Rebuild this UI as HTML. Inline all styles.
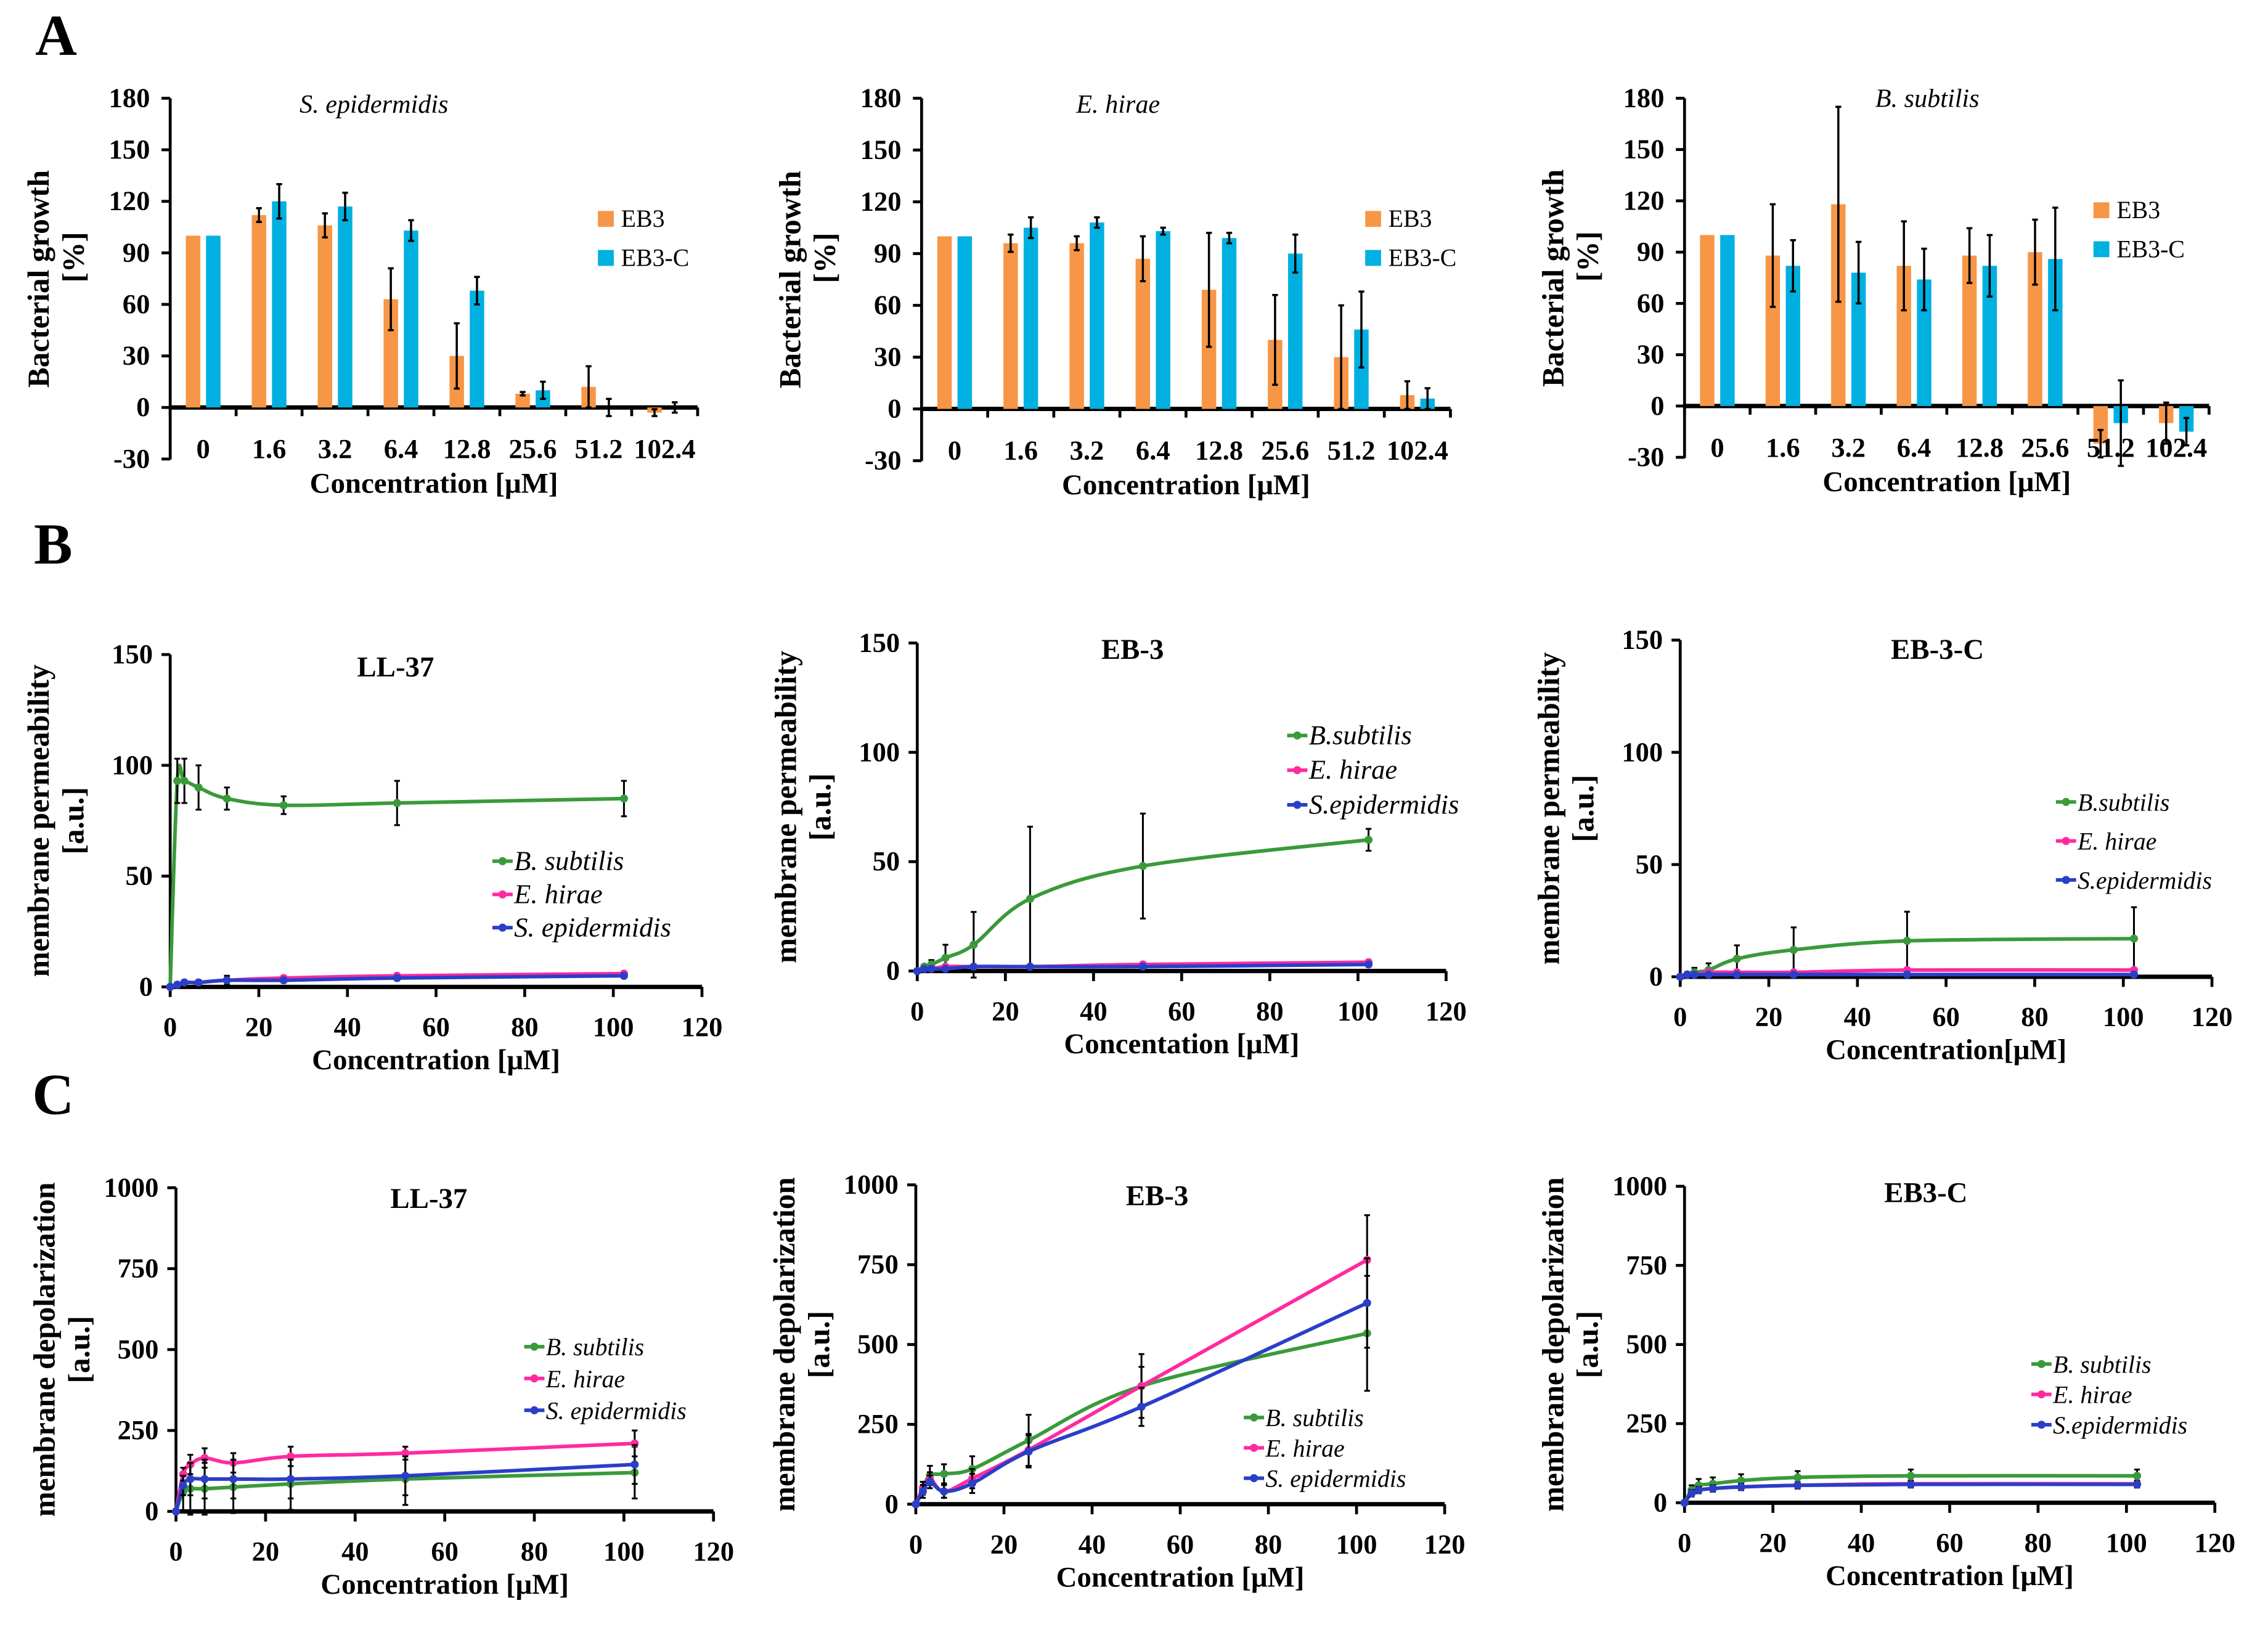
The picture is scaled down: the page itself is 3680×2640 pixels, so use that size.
<!DOCTYPE html>
<html><head><meta charset="utf-8"><style>
html,body{margin:0;padding:0;background:#fff;}
svg{display:block;}
text{font-family:"Liberation Serif",serif;}
</style></head><body>
<svg id="s" width="3680" height="2640" viewBox="0 0 1568 1126" xmlns="http://www.w3.org/2000/svg"></svg>
<script>
const S=document.getElementById('s');let h='';
function t(x,y,s,o={}){h+=`<text x="${x}" y="${y}" font-size="${o.fs||19}" font-weight="${o.fw||'bold'}" ${o.it?'font-style="italic"':''} text-anchor="${o.a||'middle'}" ${o.rot?`transform="rotate(-90 ${x} ${y})"`:''} fill="#000">${s}</text>`;}
function l(x1,y1,x2,y2,c='#000',w=2){h+=`<line x1="${x1}" y1="${y1}" x2="${x2}" y2="${y2}" stroke="${c}" stroke-width="${w}"/>`;}
const X=[0,1.6,3.2,6.4,12.8,25.6,51.2,102.4];
t(38,38,'A',{fs:40});t(36,390,'B',{fs:40});t(36,771,'C',{fs:40});
function bar(ax,top,bot,zero,xend,cats,d1,e1,d2,e2,title,tx,ty,lx,ly){
 const ppu=(zero-top)/180;
 l(ax,top,ax,bot);
 for(let v=-30;v<=180;v+=30){const y=zero-v*ppu;l(ax-6,y,ax,y);t(ax-14,y+6,v,{a:'end'});}
 l(ax,zero,xend,zero,'#000',3);
 const sp=(xend-ax)/8;
 for(let i=0;i<=8;i++)l(ax+i*sp,zero,ax+i*sp,zero+6);
 cats.forEach((c,i)=>{
  const cx=ax+sp*(i+0.5);
  [[d1,e1,'#f79646',-12],[d2,e2,'#00b0e0',2]].forEach(([d,e,col,off])=>{
   const v=d[i],y=zero-v*ppu;
   h+=`<rect x="${cx+off}" y="${Math.min(y,zero)}" width="10" height="${Math.abs(zero-y)}" fill="${col}"/>`;
   const bx=cx+off+5;
   if(e[i]>0){l(bx,y-e[i]*ppu,bx,y+e[i]*ppu,'#000',1.5);l(bx-2,y-e[i]*ppu,bx+2,y-e[i]*ppu,'#000',1.5);l(bx-2,y+e[i]*ppu,bx+2,y+e[i]*ppu,'#000',1.5);}
  });
  t(cx,zero+35,c);
 });
 t(ax-84,(top+bot)/2,'Bacterial growth',{rot:1,fs:21});
 t(ax-60,(top+bot)/2-15,'[%]',{rot:1,fs:21});
 t((ax+xend)/2,bot+23,'Concentration [μM]',{fs:20});
 t(tx,ty,title,{it:1,fs:18,fw:'normal'});
 h+=`<rect x="${lx}" y="${ly-10}" width="11" height="11" fill="#f79646"/><rect x="${lx}" y="${ly+17}" width="11" height="11" fill="#00b0e0"/>`;
 t(lx+16,ly+1,'EB3',{a:'start',fw:'normal',fs:17});t(lx+16,ly+28,'EB3-C',{a:'start',fw:'normal',fs:17});
}
const cats=['0','1.6','3.2','6.4','12.8','25.6','51.2','102.4'];
bar(117,68,318,282,482,cats,[100,112,106,63,30,8,12,-3],[0,4,7,18,19,1,12,2],[100,120,117,103,68,10,0,0],[0,10,8,6,8,5,5,3],'S. epidermidis',258,78,413,156);
bar(637,68,319,283,1003,cats,[100,96,96,87,69,40,30,8],[0,5,4,13,33,26,30,8],[100,105,108,103,99,90,46,6],[0,6,3,2,3,11,22,6],'E. hirae',773,78,944,156);
bar(1165,68,317,281,1528,cats,[100,88,118,82,88,90,-22,-10],[0,30,57,26,16,19,8,12],[100,82,78,74,82,86,-10,-15],[0,15,18,18,18,30,25,8],'B. subtilis',1333,74,1448,150);
function path(pts){let d=`M${pts[0][0]},${pts[0][1]}`;for(let i=0;i<pts.length-1;i++){const p0=pts[i-1]||pts[i],p1=pts[i],p2=pts[i+1],p3=pts[i+2]||p2;
 d+=` C${p1[0]+(p2[0]-p0[0])/6},${p1[1]+(p2[1]-p0[1])/6} ${p2[0]-(p3[0]-p1[0])/6},${p2[1]-(p3[1]-p1[1])/6} ${p2[0]},${p2[1]}`;}return d;}
function lp(ax,top,zero,xend,ymax,ystep,series,errs,title,tx,ty,leg,lx,ly,lsp,ylab,xlab,lfs){
 const ppu=(zero-top)/ymax,px=(xend-ax)/120;
 l(ax,top,ax,zero);
 for(let v=0;v<=ymax;v+=ystep){const y=zero-v*ppu;l(ax-6,y,ax,y);t(ax-12,y+6,v,{a:'end'});}
 l(ax,zero,xend,zero,'#000',3);
 for(let v=0;v<=120;v+=20){const x=ax+v*px;l(x,zero,x,zero+7);t(x,zero+34,v);}
 const cols=['#3a9a3a','#ff2aa0','#2a3ec8'];
 series.forEach((s,k)=>{
  const pts=s.map((v,i)=>[ax+X[i]*px,zero-v*ppu]);
  h+=`<path d="${path(pts)}" fill="none" stroke="${cols[k]}" stroke-width="2.5"/>`;
  pts.forEach(([x,y],i)=>{const e=errs[k][i]*ppu;if(e>0){l(x,y-e,x,y+e,'#000',1.3);l(x-2,y-e,x+2,y-e,'#000',1.3);l(x-2,y+e,x+2,y+e,'#000',1.3);}
   h+=`<circle cx="${x}" cy="${y}" r="2.8" fill="${cols[k]}"/>`;});
 });
 leg.forEach((n,k)=>{const y=ly+k*lsp;l(lx,y,lx+14,y,cols[k],2.5);h+=`<circle cx="${lx+7}" cy="${y}" r="2.8" fill="${cols[k]}"/>`;t(lx+15,y+6,n,{a:'start',it:1,fw:'normal',fs:lfs||17});});
 t(tx,ty,title,{fs:20});
 t(ax-84,(top+zero)/2,ylab,{rot:1,fs:21});t(ax-60,(top+zero)/2,'[a.u.]',{rot:1,fs:21});
 t((ax+xend)/2,zero+57,xlab,{fs:20});
}
lp(117,453,683,485,150,50,[[0,93,93,90,85,82,83,85],[0,1,2,2,3,4,5,6],[0,1,2,2,3,3,4,5]],[[0,10,10,10,5,4,10,8],[0,0,1,1,2,1,1,1],[0,0,1,1,2,1,1,1]],'LL-37',273,468,['B. subtilis','E. hirae','S. epidermidis'],340,596,23,'membrane permeability','Concentration [μM]',19);
lp(634,445,672,1000,150,50,[[0,2,3,6,12,33,48,60],[0,1,1,2,2,2,3,4],[0,1,1,1,2,2,2,3]],[[0,1,2,6,15,33,24,5],[0,0,0,0,0,0,1,1],[0,0,0,0,0,0,1,1]],'EB-3',783,456,['B.subtilis','E. hirae','S.epidermidis'],890,509,24,'membrane permeability','Concentation [μM]',19);
lp(1162,443,676,1530,150,50,[[0,1,2,3,8,12,16,17],[0,1,1,2,2,2,3,3],[0,1,1,1,1,1,1,1]],[[0,1,2,3,6,10,13,14],[0,0,0,0,0,0,0,0],[0,0,0,0,0,0,0,0]],'EB-3-C',1340,456,['B.subtilis','E. hirae','S.epidermidis'],1422,555,27,'membrane permeability','Concentration[μM]',17);
lp(121,822,1046,493,1000,250,[[0,60,70,70,75,85,100,120],[0,115,145,165,150,170,180,210],[0,80,100,100,100,100,110,145]],[[0,60,80,80,80,80,80,80],[0,20,30,30,30,30,20,40],[0,30,50,60,60,60,60,60]],'LL-37',296,836,['B. subtilis','E. hirae','S. epidermidis'],362,932,22,'membrane depolarization','Concentration [μM]',17);
lp(633,820,1041,999,1000,250,[[0,50,90,95,110,200,370,535],[0,50,80,40,80,170,370,765],[0,40,70,40,65,165,305,630]],[[0,20,30,30,40,80,100,180],[0,20,20,20,30,50,60,140],[0,20,20,20,30,50,60,140]],'EB-3',800,834,['B. subtilis','E. hirae','S. epidermidis'],860,981,21,'membrane depolarization','Concentration [μM]',17);
lp(1165,821,1040,1532,1000,250,[[0,40,55,60,70,80,85,85],[0,30,40,45,50,55,60,60],[0,30,40,45,50,55,58,58]],[[0,15,20,20,20,20,20,20],[0,10,10,10,10,10,10,10],[0,10,10,10,10,10,10,10]],'EB3-C',1332,832,['B. subtilis','E. hirae','S.epidermidis'],1405,944,21,'membrane depolarization','Concentration [μM]',17);
S.innerHTML=h;
</script>
</body></html>
